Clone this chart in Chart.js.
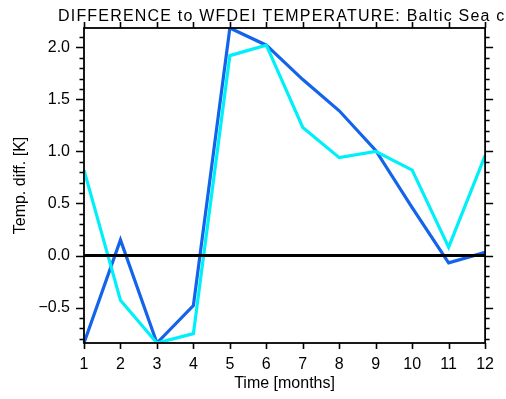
<!DOCTYPE html>
<html>
<head>
<meta charset="utf-8">
<script src="https://cdn.jsdelivr.net/npm/chart.js@4/dist/chart.umd.min.js"></script>
<style>
html,body{margin:0;padding:0;background:#fff;}
#wrap{width:506px;height:399px;position:relative;}
</style>
</head>
<body>
<div id="wrap"><canvas id="c" width="506" height="399"></canvas></div>
<script>
const months = ['1','2','3','4','5','6','7','8','9','10','11','12'];
const seriesBlue = [-0.84, 0.15, -0.84, -0.48, 2.185, 2.02, 1.69, 1.39, 1.01, 0.46, -0.07, 0.03];
const seriesCyan = [0.82, -0.43, -0.84, -0.75, 1.92, 2.02, 1.23, 0.94, 1.00, 0.82, 0.08, 0.96];
const yMajorTicks = [-0.5, 0.0, 0.5, 1.0, 1.5, 2.0];
const yMin = -0.84, yMax = 2.185;
const titleText = 'DIFFERENCE to WFDEI TEMPERATURE: Baltic Sea coast';

const FONT = 'Liberation Sans';

const framePlugin = {
  id: 'frame',
  afterDatasetsDraw(chart) {
    const {ctx, chartArea: a, scales} = chart;
    const y = scales.y, x = scales.x;
    ctx.save();
    // zero line
    ctx.strokeStyle = '#000';
    ctx.lineWidth = 3;
    const y0 = y.getPixelForValue(0);
    ctx.beginPath(); ctx.moveTo(a.left, y0); ctx.lineTo(a.right, y0); ctx.stroke();
    // box
    ctx.lineWidth = 1.8;
    ctx.strokeRect(a.left, a.top, a.right - a.left, a.bottom - a.top);
    // y ticks
    ctx.lineWidth = 1.6;
    ctx.beginPath();
    for (let i = -8; i <= 21; i++) {
      const v = i / 10;
      if (v < yMin || v > yMax) continue;
      const p = Math.round(y.getPixelForValue(v)) + 0.5;
      const major = (i % 5 === 0);
      const len = major ? 8 : 4.5;
      ctx.moveTo(a.left - len, p); ctx.lineTo(a.left, p);
      ctx.moveTo(a.right, p); ctx.lineTo(a.right + len, p);
    }
    // x ticks
    for (let i = 0; i < months.length; i++) {
      const p = Math.round(x.getPixelForValue(i)) + 0.5;
      ctx.moveTo(p, a.bottom); ctx.lineTo(p, a.bottom + 6);
      ctx.moveTo(p, a.top); ctx.lineTo(p, a.top - 6);
    }
    ctx.stroke();
    // title
    ctx.fillStyle = '#000';
    ctx.font = '16px "' + FONT + '"';
    ctx.letterSpacing = '1.2px';
    ctx.textAlign = 'left';
    ctx.textBaseline = 'alphabetic';
    ctx.fillText(titleText, 58, 21);
    ctx.restore();
  }
};

new Chart(document.getElementById('c'), {
  type: 'line',
  data: {
    labels: months,
    datasets: [
      {data: seriesCyan, borderColor: 'rgb(0,240,250)', borderWidth: 3.2, pointRadius: 0, tension: 0, fill: false},
      {data: seriesBlue, borderColor: 'rgb(20,100,235)', borderWidth: 3.2, pointRadius: 0, tension: 0, fill: false}
    ]
  },
  options: {
    responsive: false,
    animation: false,
    layout: {padding: {top: 28, right: 13, left: 0, bottom: 0}},
    plugins: {legend: {display: false}, tooltip: {enabled: false}, title: {display: false}},
    scales: {
      x: {
        type: 'category',
        offset: false,
        grid: {display: false, drawTicks: false},
        border: {display: false},
        ticks: {color: '#000', font: {family: FONT, size: 16}, padding: 12, maxRotation: 0, autoSkip: false},
        title: {display: true, text: 'Time [months]', color: '#000', font: {family: FONT, size: 16}, padding: {top: 0, bottom: 6}},
        afterFit(s) { s.height = 56; }
      },
      y: {
        type: 'linear',
        min: yMin, max: yMax,
        grid: {display: false, drawTicks: false},
        border: {display: false},
        afterBuildTicks(s) { s.ticks = yMajorTicks.map(v => ({value: v})); },
        ticks: {color: '#000', font: {family: FONT, size: 16}, padding: 14,
                callback: v => Number(v).toFixed(1).replace('-', '\u2212')},
        title: {display: true, text: 'Temp. diff. [K]', color: '#000', font: {family: FONT, size: 16}, padding: {top: 11, bottom: 0}},
        afterFit(s) { s.width = 84; }
      }
    }
  },
  plugins: [framePlugin]
});
</script>
</body>
</html>
